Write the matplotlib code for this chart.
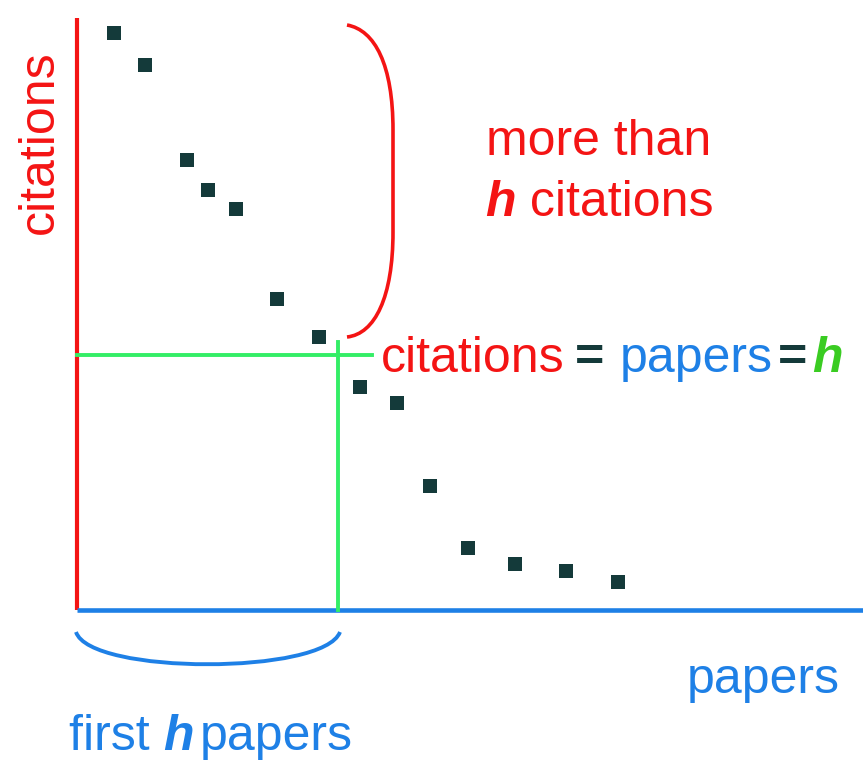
import matplotlib
matplotlib.use('Agg')
import matplotlib.pyplot as plt
import numpy as np
from matplotlib.path import Path
from matplotlib.patches import PathPatch

# papers ranked by citations (positions / counts in arbitrary chart units)
paper_pos = [3.7, 6.8, 11.0, 13.1, 15.9, 20.0, 24.2, 28.3, 32.0, 35.3, 39.1, 43.8, 48.9, 54.1]
citations = [57.7, 54.5, 45.0, 42.0, 40.1, 31.1, 27.3, 22.3, 20.7, 12.4, 6.2, 4.6, 3.9, 2.8]
h_x = 26.1       # position of the h-th paper boundary
h_y = 25.5       # citations = h level

RED = '#f41414'
BLUE = '#1e80e6'
GREEN_LINE = '#33ee66'
GREEN_TXT = '#3acc22'
DARK = '#143a3a'
FONT = 'Liberation Sans'
FS = 36

plt.rcParams['font.family'] = [FONT, 'DejaVu Sans']

fig = plt.figure(figsize=(8.63, 7.61), dpi=100)
ax = fig.add_axes([0, 0, 1, 1])
ax.set_xlim(-7.7, 78.6)
ax.set_ylim(-15.1, 61.0)
ax.axis('off')

# axes lines
ax.plot([0, 0], [0, 59.2], color=RED, lw=3, solid_capstyle='butt')
ax.plot([0, 78.6], [0, 0], color=BLUE, lw=3.3, solid_capstyle='butt')

# h square
ax.plot([0, h_x + 3.4], [h_y, h_y], color=GREEN_LINE, lw=2.8)
ax.plot([h_x, h_x], [0, h_y + 1.3], color=GREEN_LINE, lw=2.8)

# data points
ax.plot(paper_pos, citations, 's', color=DARK, markersize=10, markeredgewidth=0)

# red brace (right parenthesis) over the top h papers
top, bot = 58.5, 27.3
xb, xm = 27.0, 31.6
verts = [(xb, top), (xb + 2.8, top - 0.5), (xm, top - 4.0), (xm, top - 10.5),
         (xm, bot + 10.5),
         (xm, bot + 4.0), (xb + 2.8, bot + 0.3), (xb, bot)]
codes = [Path.MOVETO, Path.CURVE4, Path.CURVE4, Path.CURVE4, Path.LINETO,
         Path.CURVE4, Path.CURVE4, Path.CURVE4]
ax.add_patch(PathPatch(Path(verts, codes), fill=False, edgecolor=RED, lw=2.6))

# blue brace under the first h papers
verts = [(-0.1, -2.2), (1.3, -6.5), (h_x - 1.4, -6.5), (h_x + 0.2, -2.2)]
codes = [Path.MOVETO, Path.CURVE4, Path.CURVE4, Path.CURVE4]
ax.add_patch(PathPatch(Path(verts, codes), fill=False, edgecolor=BLUE, lw=2.8))

# axis labels
ax.text(-3.7, 46.8, 'citations', color=RED, fontsize=FS, rotation=90,
        ha='center', va='center')
ax.text(68.6, -7.0, 'papers', color=BLUE, fontsize=FS, ha='center', va='center')


def chain(pieces, x, y):
    """Write coloured text pieces one after another (gap in points)."""
    prev = None
    for txt, color, weight, gap in pieces:
        kw = dict(color=color, fontsize=FS, ha='left', va='bottom',
                  fontweight=weight)
        if txt == 'h':
            kw['style'] = 'italic'
        if prev is None:
            prev = ax.text(x, y, txt, **kw)
        else:
            prev = ax.annotate(txt, xy=(1, 0), xycoords=prev, xytext=(gap, 0),
                               textcoords='offset points', **kw)
    return prev


# "more than / h citations"
ax.text(52.2, 46.8, 'more than', color=RED, fontsize=FS, ha='center', va='center')
chain([('h', RED, 'bold', 0), (' citations', RED, 'normal', 0)], 40.8, 38.4)

# "citations = papers = h"
chain([('citations', RED, 'normal', 0), ('=', DARK, 'bold', 7.5),
       ('papers', BLUE, 'normal', 11), ('=', DARK, 'bold', 3.6),
       ('h', GREEN_TXT, 'bold', 4)],
      30.4, 22.8)

# "first h papers"
chain([('first ', BLUE, 'normal', 0), ('h', BLUE, 'bold', 0),
       ('papers', BLUE, 'normal', 4)],
      -0.8, -14.95)

fig.savefig('out.png', dpi=100)
